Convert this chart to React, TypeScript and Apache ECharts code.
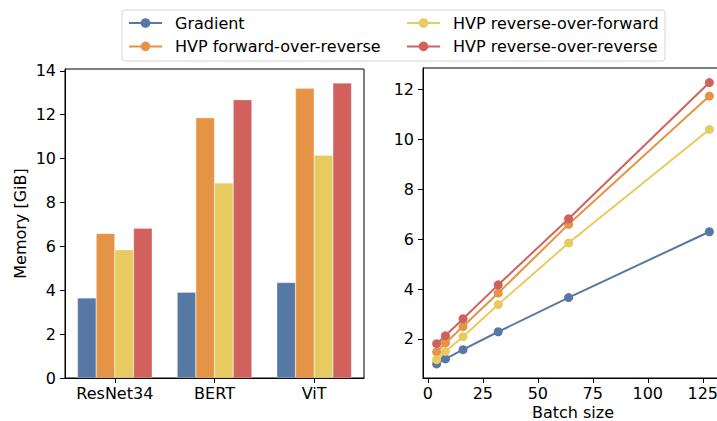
import React, { useEffect, useRef } from "react";
import * as echarts from "echarts";

const categories = ["ResNet34", "BERT", "ViT"];
const seriesNames = [
  "Gradient",
  "HVP forward-over-reverse",
  "HVP reverse-over-forward",
  "HVP reverse-over-reverse",
];
const colors = ["#5778a4", "#e49444", "#e7ca60", "#d1615d"];

const barGradient = [3.65, 3.91, 4.35];
const barFwdRev = [6.59, 11.86, 13.2];
const barRevFwd = [5.84, 8.89, 10.15];
const barRevRev = [6.82, 12.68, 13.44];

const batchSizes = [4, 8, 16, 32, 64, 128];
const lineGradient = [1.0, 1.2, 1.57, 2.29, 3.66, 6.3];
const lineFwdRev = [1.48, 1.84, 2.5, 3.84, 6.6, 11.74];
const lineRevFwd = [1.17, 1.5, 2.09, 3.38, 5.85, 10.4];
const lineRevRev = [1.81, 2.13, 2.81, 4.17, 6.82, 12.28];

const leftYTicks = [0, 2, 4, 6, 8, 10, 12, 14];
const rightYTicks = [2, 4, 6, 8, 10, 12];
const rightXTicks = [0, 25, 50, 75, 100, 125];
const rightXName = "Batch size";

const FONT = "DejaVu Sans";
const FS = 16;

export default function App() {
  const ref = useRef<HTMLDivElement>(null);
  useEffect(() => {
    if (!ref.current) return;
    const chart = echarts.init(ref.current, undefined, { renderer: "svg" });
    const barData = [barGradient, barFwdRev, barRevFwd, barRevRev];
    const lineData = [lineGradient, lineFwdRev, lineRevFwd, lineRevRev];

    const axisCommon = {
      axisLine: { show: true, onZero: false, lineStyle: { color: "#000", width: 1 } },
      axisTick: { show: true, length: 5, lineStyle: { color: "#000", width: 1 } },
      splitLine: { show: false },
      axisLabel: { color: "#000", fontSize: FS, fontFamily: FONT },
    };

    const lineSeries = seriesNames.map((name, i) => ({
      type: "line",
      name,
      xAxisIndex: 1,
      yAxisIndex: 1,
      data: batchSizes.map((b, j) => [b, lineData[i][j]]),
      symbol: "circle",
      symbolSize: 9,
      showSymbol: true,
      lineStyle: { color: colors[i], width: 2 },
      itemStyle: { color: colors[i] },
      z: 2 + i,
    }));
    const barSeries = seriesNames.map((name, i) => ({
      type: "bar",
      name,
      xAxisIndex: 0,
      yAxisIndex: 0,
      data: barData[i],
      barGap: "0%",
      barCategoryGap: "25%",
      itemStyle: { color: colors[i], borderColor: "rgba(255,255,255,0.5)", borderWidth: 0.5 },
    }));

    const legendCommon = {
      orient: "vertical",
      padding: 0,
      itemGap: 7.4,
      itemWidth: 33,
      itemHeight: 12,
      textStyle: { fontSize: FS, lineHeight: 16, color: "#000", fontFamily: FONT, padding: [0, 0, 0, 8] },
      selectedMode: false,
    };

    const gridCommon = {
      show: true,
      borderColor: "#000",
      borderWidth: 1,
      backgroundColor: "transparent",
      containLabel: false,
      outerBoundsMode: "none",
    };

    chart.setOption({
      animation: false,
      textStyle: { fontFamily: FONT },
      graphic: [
        {
          type: "rect",
          shape: { x: 122, y: 10, width: 543, height: 51, r: 3 },
          style: { fill: "rgba(255,255,255,0.8)", stroke: "#d5d5d5", lineWidth: 1 },
          z: -1,
        },
        {
          type: "text",
          x: 573,
          y: 404,
          style: {
            text: rightXName,
            fill: "#000",
            font: `${FS}px "${FONT}"`,
            align: "center",
            verticalAlign: "top",
          },
        },
      ],
      legend: [
        { ...legendCommon, left: 128, top: 15, data: [seriesNames[0], seriesNames[1]] },
        { ...legendCommon, left: 406, top: 15, data: [seriesNames[2], seriesNames[3]] },
      ],
      grid: [
        { ...gridCommon, left: 65, top: 69, right: 353, bottom: 43 },
        { ...gridCommon, left: 423, top: 68, right: -6, bottom: 43 },
      ],
      xAxis: [
        {
          ...axisCommon,
          type: "category",
          gridIndex: 0,
          data: categories,
          axisTick: { ...axisCommon.axisTick, alignWithLabel: true, interval: 0 },
          axisLabel: { ...axisCommon.axisLabel, margin: 7, interval: 0 },
        },
        {
          ...axisCommon,
          type: "value",
          gridIndex: 1,
          min: -2.2,
          max: 134.2,
          axisTick: { ...axisCommon.axisTick, customValues: rightXTicks },
          axisLabel: { ...axisCommon.axisLabel, margin: 7, customValues: rightXTicks },
        },
      ],
      yAxis: [
        {
          ...axisCommon,
          type: "value",
          gridIndex: 0,
          min: 0,
          max: 14.08,
          axisTick: { ...axisCommon.axisTick, customValues: leftYTicks },
          axisLabel: { ...axisCommon.axisLabel, margin: 9, customValues: leftYTicks },
          name: "Memory [GiB]",
          nameLocation: "middle",
          nameGap: 37,
          nameTextStyle: { color: "#000", fontSize: FS, fontFamily: FONT },
        },
        {
          ...axisCommon,
          type: "value",
          gridIndex: 1,
          min: 0.435,
          max: 12.865,
          axisTick: { ...axisCommon.axisTick, customValues: rightYTicks },
          axisLabel: { ...axisCommon.axisLabel, margin: 9, customValues: rightYTicks },
        },
      ],
      series: [...lineSeries, ...barSeries],
    });
    return () => chart.dispose();
  }, []);
  return (
    <div
      ref={ref}
      style={{ position: "fixed", left: 0, top: 0, width: 717, height: 421, background: "#fff" }}
    />
  );
}
